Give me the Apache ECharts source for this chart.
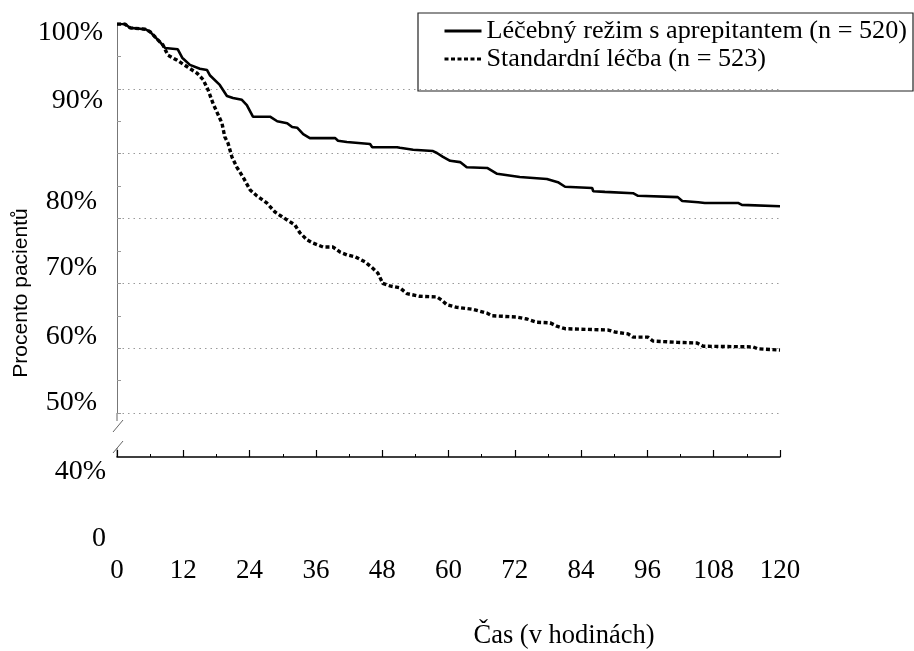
<!DOCTYPE html>
<html><head><meta charset="utf-8">
<script src="https://cdn.jsdelivr.net/npm/echarts@6/dist/echarts.min.js"></script>
<style>html,body{margin:0;padding:0;background:#fff}#c{width:914px;height:651px}</style>
</head><body><div id="c"></div>
<script>
// ---- data ----
const seriesNames = ['Léčebný režim s aprepitantem (n = 520)', 'Standardní léčba (n = 523)'];
const hoursAprepitant = [0,1.4,2.4,5.1,6.0,7.8,8.7,11.0,11.8,13.2,15.0,16.3,16.8,18.6,19.9,21.0,22.6,23.5,24.6,27.7,29.0,30.8,31.7,32.6,33.7,34.9,39.5,40.0,41.6,41.8,45.8,46.2,50.7,51.2,53.6,57.2,57.9,59.0,60.3,62.1,63.3,67.0,68.8,72.9,77.8,79.8,81.1,86.0,86.2,88.3,93.4,94.3,101.5,102.3,105.2,106.4,112.4,113.1,120];
const pctAprepitant = [100,100,99.4,99.2,98.8,97.2,96.3,96.1,94.8,93.7,93.1,92.9,92.1,90.6,88.9,88.6,88.3,87.5,85.7,85.7,85.0,84.7,84.1,84.0,83.0,82.4,82.4,82.0,81.8,81.5,81.5,81.0,81.0,80.9,80.6,80.4,80.1,79.5,78.9,78.7,77.9,77.8,76.9,76.4,76.1,75.6,74.9,74.7,74.2,74.1,73.9,73.5,73.3,72.7,72.5,72.4,72.4,72.1,71.9];
const hoursStandard = [0,1.4,2.4,5.1,6.0,7.8,8.3,9.2,10.9,12.7,14.5,15.6,16.5,17.4,19.0,19.5,20.1,20.8,21.7,22.8,24.1,25.3,27.1,28.6,30.0,32.2,33.1,34.4,35.5,37.3,39.1,40.4,41.6,43.1,44.9,46.2,47.2,48.1,49.4,51.2,52.5,54.8,57.9,58.8,59.7,61.5,64.4,67.0,67.9,72.4,74.2,76.0,78.4,79.6,81.1,88.9,90.1,92.5,93.4,96.1,97.0,101.4,105.0,106.1,115.1,116.0,120];
const pctStandard = [100,100,99.4,99.2,98.8,97.2,96.8,95.2,94.4,93.4,92.4,91.4,89.8,87.7,84.7,82.6,81.6,79.5,77.9,76.4,74.4,73.5,72.4,71.0,70.2,69.0,67.8,66.7,66.2,65.6,65.6,64.8,64.4,64.1,63.3,62.4,61.6,60.0,59.6,59.3,58.4,58.0,57.9,57.4,56.7,56.3,56.0,55.4,55.0,54.8,54.5,54.0,53.9,53.4,53.0,52.8,52.5,52.2,51.7,51.7,51.1,50.9,50.8,50.3,50.2,49.9,49.7];
const xTickStep = 12;
const xMax = 120;
const yGridValues = [40, 100];
const yTickLabels = ['100%','90%','80%','70%','60%','50%','40%','0'];
const xTitle = 'Čas (v hodinách)';
const yTitle = 'Procento pacientů';

// ---- layout (positions of the free-standing labels, as in the reference) ----
const yLabelLayout = [[103,33],[103,101],[97,202],[97,268],[97,337],[97,403],[106,472],[106,539]];
const SERIF = '"Liberation Serif","Times New Roman",serif';
const SANS = '"Liberation Sans",Arial,sans-serif';

const chart = echarts.init(document.getElementById('c'), null, {renderer:'canvas'});
const toPairs = (xs, ys) => xs.map((x, i) => [x, ys[i]]);
const gridColors = ['#9a9a9a','#9a9a9a','#9a9a9a','#9a9a9a','#9a9a9a','#9a9a9a','rgba(0,0,0,0)'];

chart.setOption({
  animation: false,
  backgroundColor: '#fff',
  grid: { left: 117, top: 24, width: 663, height: 389, containLabel: false },
  legend: {
    left: 418, top: 13, orient: 'vertical',
    padding: [4, 6, 18, 25], itemGap: 0,
    itemWidth: 37, itemHeight: 14,
    borderColor: '#222', borderWidth: 1.2,
    itemStyle: { opacity: 0, borderWidth: 0 },
    lineStyle: { width: 3 },
    textStyle: { fontFamily: SERIF, fontSize: 26.2, color: '#000', lineHeight: 28 },
    data: seriesNames
  },
  xAxis: {
    type: 'value', min: 0, max: xMax, interval: xTickStep,
    offset: 44,
    axisLine: { show: true, lineStyle: { color: '#000', width: 1.5 } },
    axisTick: { show: true, inside: true, length: 7, lineStyle: { color: '#000', width: 1.2 } },
    minorTick: { show: true, splitNumber: 2, length: 3, lineStyle: { color: '#000', width: 1 } },
    axisLabel: { show: true, margin: 100, fontFamily: SERIF, fontSize: 27, color: '#000' },
    splitLine: { show: false }
  },
  yAxis: {
    type: 'value', min: yGridValues[0], max: yGridValues[1], interval: 10,
    axisLine: { show: true, lineStyle: { color: '#777', width: 1 } },
    axisTick: { show: true, inside: true, length: 4, lineStyle: { color: '#999', width: 1 } },
    minorTick: { show: true, splitNumber: 2, length: 4, lineStyle: { color: '#999', width: 1 } },
    axisLabel: { show: false },
    splitLine: { show: true, lineStyle: { color: gridColors, width: 1, type: [1.5, 4] } }
  },
  series: [
    {
      name: seriesNames[0], type: 'line', data: toPairs(hoursAprepitant, pctAprepitant),
      symbol: 'none', showSymbol: false, z: 3,
      lineStyle: { color: '#000', width: 2.6 }, itemStyle: { color: '#000' }
    },
    {
      name: seriesNames[1], type: 'line', data: toPairs(hoursStandard, pctStandard),
      symbol: 'none', showSymbol: false, z: 4,
      lineStyle: { color: '#000', width: 3.4, type: [4, 2.5] }, itemStyle: { color: '#000' }
    }
  ]
});

// free-standing texts and the axis-break marks
const x0 = chart.convertToPixel({xAxisIndex: 0}, 0);
const yBottom = chart.convertToPixel({yAxisIndex: 0}, yGridValues[0]);
const xAxisY = yBottom + 44;
const brk = '#666';
const graphic = [];
yTickLabels.forEach((t, i) => {
  graphic.push({ type: 'text', silent: true, style: {
    text: t, x: yLabelLayout[i][0], y: yLabelLayout[i][1],
    textAlign: 'right', textVerticalAlign: 'middle',
    font: '28px ' + SERIF, fill: '#000' } });
});
graphic.push({ type: 'text', silent: true, style: {
  text: xTitle, x: 564, y: 636, textAlign: 'center', textVerticalAlign: 'middle',
  font: '26.5px ' + SERIF, fill: '#000' } });
graphic.push({ type: 'text', silent: true, x: 21, y: 293, rotation: Math.PI / 2, style: {
  text: yTitle, x: 0, y: 0, textAlign: 'center', textVerticalAlign: 'middle',
  font: '21px ' + SANS, fill: '#000' } });
const seg = (a, b, c, d) => ({ type: 'line', silent: true,
  shape: { x1: a, y1: b, x2: c, y2: d }, style: { stroke: brk, lineWidth: 1 } });
graphic.push(seg(x0, yBottom, x0, yBottom + 8));
graphic.push(seg(x0 - 4, yBottom + 19, x0 + 6, yBottom + 7));
graphic.push(seg(x0 - 4, yBottom + 40, x0 + 6, yBottom + 28));
graphic.push(seg(x0, yBottom + 35, x0, xAxisY));
chart.setOption({ graphic: graphic });
</script>
</body></html>
